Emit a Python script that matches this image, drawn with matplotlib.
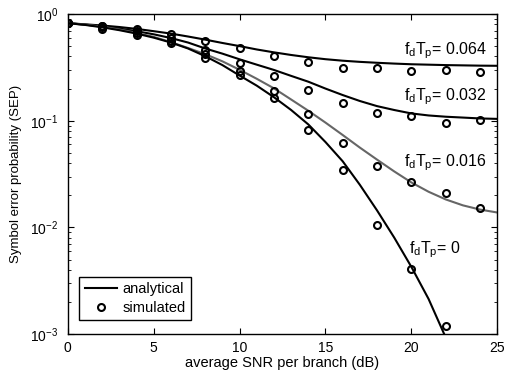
import numpy as np
import matplotlib
matplotlib.use('Agg')
import matplotlib.pyplot as plt
from matplotlib.ticker import LogLocator, NullFormatter

# %% Data
snr_line = np.arange(0, 26)
ana_064 = [0.82, 0.80, 0.78, 0.755, 0.725, 0.69, 0.655, 0.615, 0.575, 0.535,
           0.50, 0.465, 0.437, 0.413, 0.393, 0.377, 0.365, 0.356, 0.349, 0.343,
           0.338, 0.335, 0.332, 0.330, 0.328, 0.327]
ana_032 = [0.82, 0.795, 0.765, 0.73, 0.69, 0.645, 0.595, 0.54, 0.475, 0.425,
           0.376, 0.335, 0.299, 0.263, 0.232, 0.20, 0.174, 0.153, 0.137, 0.126,
           0.117, 0.112, 0.109, 0.107, 0.105, 0.104]
ana_016 = [0.82, 0.795, 0.76, 0.715, 0.665, 0.61, 0.545, 0.48, 0.42, 0.36,
           0.30, 0.247, 0.201, 0.158, 0.124, 0.096, 0.0735, 0.056, 0.0432, 0.0335,
           0.0264, 0.0216, 0.0183, 0.0161, 0.0147, 0.0138]
snr_line0 = np.arange(0, 23)
ana_0 = [0.82, 0.79, 0.75, 0.705, 0.655, 0.60, 0.54, 0.475, 0.402, 0.332,
         0.265, 0.213, 0.166, 0.126, 0.0923, 0.0631, 0.0417, 0.0251, 0.01445, 0.00804,
         0.00427, 0.00214, 0.00093]

snr_sim = np.arange(0, 25, 2)
sim_064 = [0.82, 0.78, 0.72, 0.645, 0.558, 0.477, 0.404, 0.357, 0.314, 0.314,
           0.294, 0.298, 0.284]
sim_032 = [0.82, 0.77, 0.69, 0.60, 0.46, 0.35, 0.262, 0.194, 0.147, 0.117,
           0.111, 0.0945, 0.1016]
sim_016 = [0.82, 0.75, 0.66, 0.56, 0.42, 0.294, 0.19, 0.116, 0.0614, 0.038,
           0.0265, 0.0212, 0.0153]
snr_sim0 = np.arange(0, 23, 2)
sim_0 = [0.82, 0.73, 0.63, 0.53, 0.39, 0.268, 0.162, 0.081, 0.0345, 0.0105,
         0.0041, 0.00119]

labels = ['$f_d T_p$= 0.064', '$f_d T_p$= 0.032', '$f_d T_p$= 0.016', '$f_d T_p$= 0']
label_x = [19.55, 19.6, 19.55, 19.85]
label_y = [0.419, 0.156, 0.037, 0.0057]

# %% Plot
plt.rcParams['font.family'] = 'Liberation Sans'
plt.rcParams['mathtext.fontset'] = 'custom'
plt.rcParams['mathtext.rm'] = 'Liberation Sans'
plt.rcParams['mathtext.it'] = 'Liberation Sans'

fig = plt.figure(figsize=(5.1, 3.78), dpi=100)
ax = fig.add_axes([0.133, 0.116, 0.842, 0.847])

lw = 1.5
ax.plot(snr_line, ana_064, '-', color='k', lw=lw)
ax.plot(snr_line, ana_032, '-', color='k', lw=lw)
ax.plot(snr_line, ana_016, '-', color='0.4', lw=lw)
ax.plot(snr_line0, ana_0, '-', color='k', lw=lw)

mk = dict(ls='none', marker='o', ms=5, mfc='none', mec='k', mew=1.5)
for s, v in [(snr_sim, sim_064), (snr_sim, sim_032), (snr_sim, sim_016), (snr_sim0, sim_0)]:
    ax.plot(s, v, **mk)

for t, x, y in zip(labels, label_x, label_y):
    ax.text(x, y, t, fontsize=11.5, ha='left', va='baseline')

ax.set_yscale('log')
ax.set_xlim(0, 25)
ax.set_ylim(1e-3, 1)
ax.set_xticks([0, 5, 10, 15, 20, 25])
ax.yaxis.set_major_locator(LogLocator(base=10, numticks=10))
ax.yaxis.set_minor_locator(LogLocator(base=10, subs=np.arange(2, 10), numticks=10))
ax.yaxis.set_minor_formatter(NullFormatter())
ax.tick_params(which='both', direction='in', top=True, right=True, labelsize=10)
ax.tick_params(which='major', length=4)
ax.tick_params(which='minor', length=2)
ax.tick_params(axis='x', pad=5)
ax.tick_params(axis='y', pad=7)
for sp in ax.spines.values():
    sp.set_linewidth(1.0)

ax.set_xlabel('average SNR per branch (dB)', fontsize=10.5, labelpad=1)
ax.set_ylabel('Symbol error probability (SEP)', fontsize=9.5, labelpad=6)

h1, = ax.plot([], [], '-', color='k', lw=lw)
h2, = ax.plot([], [], **mk)
leg = ax.legend([h1, h2], ['analytical', 'simulated'], loc='lower left',
                bbox_to_anchor=(0.01, 0.02), fontsize=10.5, fancybox=False,
                framealpha=1, edgecolor='k', handlelength=2.2,
                borderpad=0.35, labelspacing=0.35, handletextpad=0.4)
leg.get_frame().set_linewidth(1.0)

fig.savefig('out.png', dpi=100)
